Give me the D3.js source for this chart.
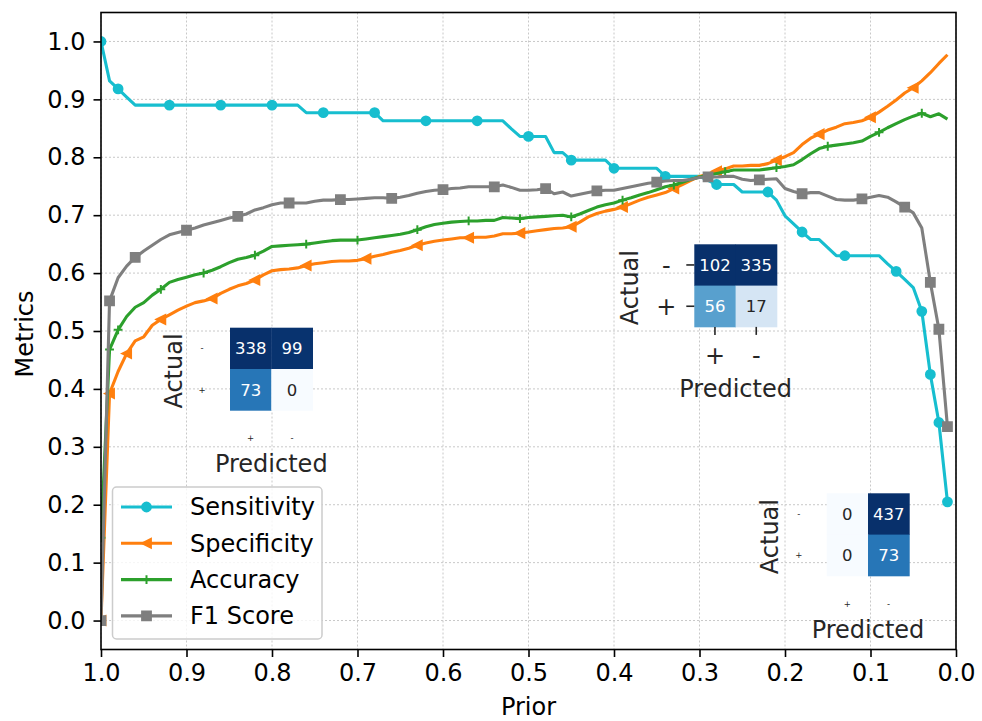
<!DOCTYPE html>
<html>
<head>
<meta charset="utf-8">
<script src="https://cdn.jsdelivr.net/npm/d3@7"></script>
<style>
  body { margin: 0; background: #fff; }
  text { font-family: "DejaVu Sans", sans-serif; }
</style>
</head>
<body>
<script>
// Data
var priors = [
  1.00, 0.99, 0.98, 0.97, 0.96, 0.95, 0.94, 0.93, 0.92, 0.91,
  0.90, 0.89, 0.88, 0.87, 0.86, 0.85, 0.84, 0.83, 0.82, 0.81,
  0.80, 0.79, 0.78, 0.77, 0.76, 0.75, 0.74, 0.73, 0.72, 0.71,
  0.70, 0.69, 0.68, 0.67, 0.66, 0.65, 0.64, 0.63, 0.62, 0.61,
  0.60, 0.59, 0.58, 0.57, 0.56, 0.55, 0.54, 0.53, 0.52, 0.51,
  0.50, 0.49, 0.48, 0.47, 0.46, 0.45, 0.44, 0.43, 0.42, 0.41,
  0.40, 0.39, 0.38, 0.37, 0.36, 0.35, 0.34, 0.33, 0.32, 0.31,
  0.30, 0.29, 0.28, 0.27, 0.26, 0.25, 0.24, 0.23, 0.22, 0.21,
  0.20, 0.19, 0.18, 0.17, 0.16, 0.15, 0.14, 0.13, 0.12, 0.11,
  0.10, 0.09, 0.08, 0.07, 0.06, 0.05, 0.04, 0.03, 0.02, 0.01
];

var sensitivity = [
  1.000, 0.932, 0.918, 0.904, 0.890, 0.890, 0.890, 0.890, 0.890, 0.890,
  0.890, 0.890, 0.890, 0.890, 0.890, 0.890, 0.890, 0.890, 0.890, 0.890,
  0.890, 0.890, 0.890, 0.890, 0.877, 0.877, 0.877, 0.877, 0.877, 0.877,
  0.877, 0.877, 0.877, 0.863, 0.863, 0.863, 0.863, 0.863, 0.863, 0.863,
  0.863, 0.863, 0.863, 0.863, 0.863, 0.863, 0.863, 0.863, 0.849, 0.836,
  0.836, 0.836, 0.836, 0.808, 0.808, 0.795, 0.795, 0.795, 0.795, 0.795,
  0.781, 0.781, 0.781, 0.781, 0.781, 0.781, 0.767, 0.767, 0.767, 0.767,
  0.767, 0.760, 0.753, 0.753, 0.753, 0.740, 0.740, 0.740, 0.740, 0.726,
  0.699, 0.685, 0.671, 0.658, 0.658, 0.644, 0.630, 0.630, 0.630, 0.630,
  0.630, 0.630, 0.616, 0.603, 0.589, 0.575, 0.534, 0.425, 0.342, 0.205
];

var specificity = [
  0.000, 0.392, 0.430, 0.461, 0.483, 0.490, 0.510, 0.520, 0.528, 0.536,
  0.543, 0.549, 0.552, 0.556, 0.565, 0.572, 0.578, 0.582, 0.588, 0.597,
  0.604, 0.606, 0.607, 0.609, 0.613, 0.616, 0.618, 0.620, 0.621, 0.621,
  0.622, 0.625, 0.629, 0.632, 0.636, 0.639, 0.643, 0.648, 0.652, 0.655,
  0.657, 0.659, 0.661, 0.661, 0.662, 0.662, 0.664, 0.668, 0.668, 0.669,
  0.671, 0.673, 0.675, 0.677, 0.678, 0.680, 0.688, 0.697, 0.703, 0.707,
  0.710, 0.714, 0.720, 0.726, 0.731, 0.735, 0.739, 0.746, 0.753, 0.760,
  0.767, 0.771, 0.776, 0.780, 0.785, 0.785, 0.786, 0.786, 0.789, 0.795,
  0.801, 0.808, 0.822, 0.833, 0.840, 0.847, 0.852, 0.858, 0.860, 0.863,
  0.869, 0.878, 0.888, 0.899, 0.911, 0.920, 0.932, 0.946, 0.962, 0.977
];

var accuracy = [
  0.143, 0.468, 0.502, 0.525, 0.541, 0.549, 0.562, 0.572, 0.584, 0.589,
  0.593, 0.597, 0.600, 0.605, 0.611, 0.618, 0.624, 0.627, 0.631, 0.638,
  0.646, 0.647, 0.648, 0.649, 0.650, 0.652, 0.654, 0.656, 0.657, 0.657,
  0.657, 0.659, 0.661, 0.663, 0.665, 0.667, 0.670, 0.675, 0.680, 0.684,
  0.686, 0.688, 0.689, 0.690, 0.690, 0.691, 0.691, 0.696, 0.695, 0.694,
  0.696, 0.697, 0.698, 0.699, 0.700, 0.697, 0.702, 0.708, 0.714, 0.718,
  0.721, 0.726, 0.730, 0.735, 0.739, 0.744, 0.749, 0.752, 0.757, 0.762,
  0.766, 0.769, 0.772, 0.775, 0.778, 0.778, 0.778, 0.778, 0.780, 0.782,
  0.784, 0.787, 0.796, 0.806, 0.815, 0.819, 0.821, 0.823, 0.825, 0.828,
  0.836, 0.843, 0.851, 0.858, 0.865, 0.871, 0.876, 0.870, 0.875, 0.866
];

var f1Score = [
  0.000, 0.552, 0.592, 0.612, 0.627, 0.638, 0.648, 0.658, 0.666, 0.670,
  0.674, 0.678, 0.683, 0.687, 0.691, 0.695, 0.698, 0.702, 0.709, 0.713,
  0.718, 0.721, 0.721, 0.721, 0.721, 0.724, 0.726, 0.726, 0.727, 0.727,
  0.728, 0.729, 0.730, 0.730, 0.729, 0.731, 0.734, 0.738, 0.741, 0.743,
  0.744, 0.746, 0.747, 0.749, 0.749, 0.749, 0.749, 0.752, 0.748, 0.743,
  0.743, 0.744, 0.746, 0.737, 0.740, 0.733, 0.736, 0.739, 0.742, 0.743,
  0.743, 0.746, 0.749, 0.752, 0.755, 0.757, 0.759, 0.760, 0.760, 0.762,
  0.765, 0.766, 0.766, 0.767, 0.767, 0.762, 0.760, 0.761, 0.762, 0.763,
  0.746, 0.741, 0.737, 0.739, 0.739, 0.733, 0.727, 0.726, 0.726, 0.728,
  0.731, 0.734, 0.731, 0.723, 0.714, 0.704, 0.678, 0.584, 0.503, 0.335
];

var seriesNames = ["Sensitivity", "Specificity", "Accuracy", "F1 Score"];

var xTicks = [1.0, 0.9, 0.8, 0.7, 0.6, 0.5, 0.4, 0.3, 0.2, 0.1, 0.0];
var yTicks = [0.0, 0.1, 0.2, 0.3, 0.4, 0.5, 0.6, 0.7, 0.8, 0.9, 1.0];

// Confusion matrices: rows = actual (-, +), columns = predicted (+, -)
var cmRowLabels = ["-", "+"];
var cmColLabels = ["+", "-"];
var cmHigh = [[338, 99], [73, 0]];
var cmMid = [[102, 335], [56, 17]];
var cmLow = [[0, 437], [0, 73]];

// Layout
var width = 982;
var height = 721;
var plotLeft = 101, plotRight = 956, plotTop = 12.5, plotBottom = 649.5;
var fontSize = 24;

var svg = d3.select("body")
  .append("svg")
  .attr("width", width)
  .attr("height", height);

var x = d3.scaleLinear().domain([1, 0]).range([plotLeft, plotRight]);
var y = d3.scaleLinear().domain([-0.05, 1.05]).range([plotBottom, plotTop]);

// Grid
var grid = svg.append("g")
  .attr("stroke", "#c8c8c8")
  .attr("stroke-width", 1)
  .attr("stroke-dasharray", "2,2");

grid.selectAll("line.gx")
  .data(xTicks)
  .enter()
  .append("line")
  .attr("x1", function (d) { return x(d); })
  .attr("x2", function (d) { return x(d); })
  .attr("y1", plotTop)
  .attr("y2", plotBottom);

grid.selectAll("line.gy")
  .data(yTicks)
  .enter()
  .append("line")
  .attr("x1", plotLeft)
  .attr("x2", plotRight)
  .attr("y1", function (d) { return y(d); })
  .attr("y2", function (d) { return y(d); });

// Axes
var xAxis = svg.append("g")
  .attr("transform", "translate(0," + plotBottom + ")")
  .call(d3.axisBottom(x)
    .tickValues(xTicks)
    .tickFormat(d3.format(".1f"))
    .tickSize(7.5)
    .tickPadding(7));

var yAxis = svg.append("g")
  .attr("transform", "translate(" + plotLeft + ",0)")
  .call(d3.axisLeft(y)
    .tickValues(yTicks)
    .tickFormat(d3.format(".1f"))
    .tickSize(7.5)
    .tickPadding(8));

[xAxis, yAxis].forEach(function (a) {
  a.select(".domain").remove();
  a.selectAll(".tick line").attr("stroke", "#000").attr("stroke-width", 1.6);
  a.selectAll(".tick text")
    .attr("fill", "#000")
    .style("font-size", fontSize + "px")
    .style("font-family", "DejaVu Sans");
});

svg.append("text")
  .attr("x", (plotLeft + plotRight) / 2)
  .attr("y", 715)
  .attr("text-anchor", "middle")
  .style("font-size", fontSize + "px")
  .text("Prior");

svg.append("text")
  .attr("transform", "translate(33," + 334 + ") rotate(-90)")
  .attr("text-anchor", "middle")
  .style("font-size", fontSize + "px")
  .text("Metrics");

// Clip for the plot area
svg.append("defs")
  .append("clipPath")
  .attr("id", "plot-clip")
  .append("rect")
  .attr("x", plotLeft)
  .attr("y", plotTop)
  .attr("width", plotRight - plotLeft)
  .attr("height", plotBottom - plotTop);

// Marker shapes
var ms = 8.8;
var h = ms / 2;
var markerPaths = {
  circle: d3.symbol(d3.symbolCircle, Math.PI * h * h)(),
  triangle: "M" + (-h) + ",0L" + h + "," + (-h) + "L" + h + "," + h + "Z",
  plus: "M" + (-h) + ",0H" + h + "M0," + (-h) + "V" + h,
  square: "M" + (-h) + "," + (-h) + "H" + h + "V" + h + "H" + (-h) + "Z"
};

var series = [
  { name: seriesNames[0], values: sensitivity, color: "#17becf", marker: "circle" },
  { name: seriesNames[1], values: specificity, color: "#ff7f0e", marker: "triangle" },
  { name: seriesNames[2], values: accuracy, color: "#2ca02c", marker: "plus" },
  { name: seriesNames[3], values: f1Score, color: "#7f7f7f", marker: "square" }
];

// markers spaced at equal display distance along each line
var diag = Math.hypot(plotRight - plotLeft, plotBottom - plotTop);
function markIndices(values) {
  var cum = [0];
  for (var i = 1; i < values.length; i++) {
    var dx = x(priors[i]) - x(priors[i - 1]);
    var dy = y(values[i]) - y(values[i - 1]);
    cum.push(cum[i - 1] + Math.hypot(dx, dy));
  }
  var step = 0.05 * diag;
  var found = {};
  var out = [];
  for (var t = 0; t < cum[cum.length - 1]; t += step) {
    var best = 0;
    for (var j = 1; j < cum.length; j++) {
      if (Math.abs(cum[j] - t) < Math.abs(cum[best] - t)) best = j;
    }
    if (!found[best]) { found[best] = true; out.push(best); }
  }
  return out;
}

function drawMarker(sel, s) {
  sel.attr("d", markerPaths[s.marker])
    .attr("fill", s.marker === "plus" ? "none" : s.color)
    .attr("stroke", s.color)
    .attr("stroke-width", 2)
    .attr("stroke-linejoin", "miter");
}

var line = d3.line()
  .x(function (d, i) { return x(priors[i]); })
  .y(function (d) { return y(d); });

var plot = svg.append("g").attr("clip-path", "url(#plot-clip)");

series.forEach(function (s) {
  var g = plot.append("g");
  g.append("path")
    .attr("d", line(s.values))
    .attr("fill", "none")
    .attr("stroke", s.color)
    .attr("stroke-width", 3.1)
    .attr("stroke-linejoin", "round");
  g.selectAll("path.m")
    .data(markIndices(s.values))
    .enter()
    .append("path")
    .attr("class", "m")
    .attr("transform", function (i) {
      return "translate(" + x(priors[i]) + "," + y(s.values[i]) + ")";
    })
    .call(drawMarker, s);
});

// Frame
svg.append("rect")
  .attr("x", plotLeft)
  .attr("y", plotTop)
  .attr("width", plotRight - plotLeft)
  .attr("height", plotBottom - plotTop)
  .attr("fill", "none")
  .attr("stroke", "#000")
  .attr("stroke-width", 1.6);

// Confusion matrix insets
var cmColor = d3.scaleSequential(d3.interpolateBlues).domain([0, 100]).clamp(true);

function luminance(c) {
  var rgb = d3.rgb(c);
  var ch = [rgb.r, rgb.g, rgb.b].map(function (v) {
    v = v / 255;
    return v <= 0.03928 ? v / 12.92 : Math.pow((v + 0.055) / 1.055, 2.4);
  });
  return 0.2126 * ch[0] + 0.7152 * ch[1] + 0.0722 * ch[2];
}

function drawMatrix(cm, opt) {
  var cell = 41.3;
  var g = svg.append("g");
  var cx = d3.scaleBand().domain([0, 1]).range([opt.x0, opt.x0 + 2 * cell]);
  var cy = d3.scaleBand().domain([0, 1]).range([opt.y0, opt.y0 + 2 * cell]);
  var cells = [];
  cm.forEach(function (row, r) {
    row.forEach(function (v, c) { cells.push({ r: r, c: c, v: v }); });
  });

  g.selectAll("rect")
    .data(cells)
    .enter()
    .append("rect")
    .attr("x", function (d) { return cx(d.c); })
    .attr("y", function (d) { return cy(d.r); })
    .attr("width", cx.bandwidth() + 0.4)
    .attr("height", cy.bandwidth() + 0.4)
    .attr("fill", function (d) { return cmColor(d.v); });

  g.selectAll("text.v")
    .data(cells)
    .enter()
    .append("text")
    .attr("x", function (d) { return cx(d.c) + cx.bandwidth() / 2; })
    .attr("y", function (d) { return cy(d.r) + cy.bandwidth() / 2; })
    .attr("dy", "0.36em")
    .attr("text-anchor", "middle")
    .style("font-size", "16.5px")
    .attr("fill", function (d) {
      return luminance(cmColor(d.v)) > 0.408 ? "#262626" : "#ffffff";
    })
    .text(function (d) { return d.v; });

  var tickFont = opt.big ? fontSize : 8.5;
  var off = 28;

  if (opt.big) {
    g.selectAll("line.ty")
      .data([0, 1])
      .enter()
      .append("line")
      .attr("x1", opt.x0 - 8).attr("x2", opt.x0)
      .attr("y1", function (d) { return cy(d) + cy.bandwidth() / 2; })
      .attr("y2", function (d) { return cy(d) + cy.bandwidth() / 2; })
      .attr("stroke", "#262626").attr("stroke-width", 1.6);
    g.selectAll("line.tx")
      .data([0, 1])
      .enter()
      .append("line")
      .attr("y1", opt.y0 + 2 * cell).attr("y2", opt.y0 + 2 * cell + 8)
      .attr("x1", function (d) { return cx(d) + cx.bandwidth() / 2; })
      .attr("x2", function (d) { return cx(d) + cx.bandwidth() / 2; })
      .attr("stroke", "#262626").attr("stroke-width", 1.6);
  }

  g.selectAll("text.ry")
    .data(cmRowLabels)
    .enter()
    .append("text")
    .attr("x", opt.x0 - off)
    .attr("y", function (d, i) { return cy(i) + cy.bandwidth() / 2; })
    .attr("dy", "0.36em")
    .attr("text-anchor", "middle")
    .attr("fill", "#262626")
    .style("font-size", tickFont + "px")
    .text(function (d) { return d; });

  g.selectAll("text.cx")
    .data(cmColLabels)
    .enter()
    .append("text")
    .attr("x", function (d, i) { return cx(i) + cx.bandwidth() / 2; })
    .attr("y", opt.y0 + 2 * cell + off)
    .attr("dy", "0.36em")
    .attr("text-anchor", "middle")
    .attr("fill", "#262626")
    .style("font-size", tickFont + "px")
    .text(function (d) { return d; });

  g.append("text")
    .attr("transform", "translate(" + (opt.x0 - opt.actualDx) + "," + (opt.y0 + cell + 2) + ") rotate(-90)")
    .attr("text-anchor", "middle")
    .attr("fill", "#262626")
    .style("font-size", fontSize + "px")
    .text("Actual");

  g.append("text")
    .attr("x", opt.x0 + cell)
    .attr("y", opt.y0 + 2 * cell + opt.predDy)
    .attr("text-anchor", "middle")
    .attr("fill", "#262626")
    .style("font-size", fontSize + "px")
    .text("Predicted");
}

drawMatrix(cmHigh, { x0: 230, y0: 327.7, big: false, actualDx: 48.5, predDy: 62 });
drawMatrix(cmMid, { x0: 694.3, y0: 244.3, big: true, actualDx: 56.3, predDy: 70 });
drawMatrix(cmLow, { x0: 826.7, y0: 493.3, big: false, actualDx: 48.7, predDy: 61.6 });

// Legend
var legend = svg.append("g");
legend.append("rect")
  .attr("x", 112.5)
  .attr("y", 487)
  .attr("width", 209.5)
  .attr("height", 152)
  .attr("rx", 4)
  .attr("fill", "#fff")
  .attr("fill-opacity", 0.8)
  .attr("stroke", "#cccccc")
  .attr("stroke-width", 1.5);

var items = legend.selectAll("g.item")
  .data(series)
  .enter()
  .append("g")
  .attr("transform", function (d, i) { return "translate(0," + (507 + i * 36.3) + ")"; });

items.append("line")
  .attr("x1", 121).attr("x2", 172)
  .attr("stroke", function (d) { return d.color; })
  .attr("stroke-width", 3.1);

items.append("path")
  .attr("transform", "translate(146.5,0)")
  .each(function (d) { d3.select(this).call(drawMarker, d); });

items.append("text")
  .attr("x", 190)
  .attr("dy", "0.35em")
  .attr("fill", "#000")
  .style("font-size", fontSize + "px")
  .text(function (d) { return d.name; });
</script>
</body>
</html>
